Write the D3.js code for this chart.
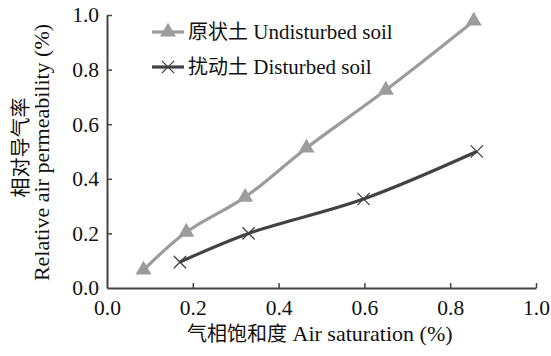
<!DOCTYPE html>
<html>
<head>
<meta charset="utf-8">
<script src="https://cdn.jsdelivr.net/npm/d3@7"></script>
<style>
body { margin: 0; background: #fff; }
text { font-family: "Liberation Serif", "Noto Sans CJK SC", serif; fill: #111; }
.cjk { font-family: "Noto Sans CJK SC", sans-serif; }
</style>
</head>
<body>
<div id="chart-area"></div>
<script>
// data
var undisturbedX = [0.085, 0.185, 0.322, 0.465, 0.65, 0.855];
var undisturbedY = [0.066, 0.205, 0.333, 0.513, 0.725, 0.978];
var disturbedX = [0.17, 0.33, 0.598, 0.862];
var disturbedY = [0.095, 0.2, 0.326, 0.50];
var xTicks = [0, 0.2, 0.4, 0.6, 0.8, 1.0];
var yTicks = [0, 0.2, 0.4, 0.6, 0.8, 1.0];
var seriesCn = ['原状土', '扰动土'];
var seriesEn = ['Undisturbed soil', 'Disturbed soil'];

var margin = { left: 107, right: 15, top: 15, bottom: 68 };
var width = 551 - margin.left - margin.right,
    height = 356 - margin.top - margin.bottom;

var svg = d3.select('#chart-area')
    .append('svg')
    .attr('width', 551)
    .attr('height', 356);

var g = svg.append('g')
    .attr('transform', 'translate(' + margin.left + ', ' + margin.top + ')');

var xScale = d3.scaleLinear().domain([0, 1]).range([0, width]);
var yScale = d3.scaleLinear().domain([0, 1]).range([height, 0]);

var axisColor = '#444';

var xAxis = g.append('g')
    .attr('transform', 'translate(0, ' + height + ')')
    .call(d3.axisBottom(xScale).tickValues(xTicks).tickFormat(d3.format('.1f'))
        .tickSizeInner(-5).tickSizeOuter(0).tickPadding(12));
var yAxis = g.append('g')
    .call(d3.axisLeft(yScale).tickValues(yTicks).tickFormat(d3.format('.1f'))
        .tickSizeInner(-5).tickSizeOuter(0).tickPadding(8));

[xAxis, yAxis].forEach(function(a) {
    a.select('.domain').attr('stroke', axisColor).attr('stroke-width', 2);
    a.selectAll('line').attr('stroke', axisColor).attr('stroke-width', 1.5);
    a.selectAll('text')
        .style('font-size', '21.5px')
        .style('font-family', '"Liberation Serif", serif')
        .style('fill', '#111');
});
xAxis.selectAll('.tick').filter(function(d) { return d === 0; }).select('line').remove();
yAxis.selectAll('.tick').filter(function(d) { return d === 0; }).select('line').remove();

// axis titles
var xTitle = g.append('text')
    .attr('x', 80)
    .attr('y', height + 53)
    .attr('text-anchor', 'start');
xTitle.append('tspan').attr('class', 'cjk').style('font-size', '20px').text('气相饱和度');
xTitle.append('tspan').style('font-size', '22px').text(' Air saturation (%)');

g.append('text')
    .attr('class', 'cjk')
    .attr('transform', 'rotate(-90)')
    .attr('x', -132.5)
    .attr('y', -79)
    .attr('text-anchor', 'middle')
    .style('font-size', '20px')
    .text('相对导气率');

g.append('text')
    .attr('transform', 'rotate(-90)')
    .attr('x', -137.5)
    .attr('y', -58)
    .attr('text-anchor', 'middle')
    .style('font-size', '22px')
    .text('Relative air permeability (%)');

var line = d3.line()
    .x(function(d) { return xScale(d[0]); })
    .y(function(d) { return yScale(d[1]); })
    .curve(d3.curveCatmullRom.alpha(0.5));

var undisturbed = d3.zip(undisturbedX, undisturbedY);
var disturbed = d3.zip(disturbedX, disturbedY);

var lightCol = '#9c9c9c', darkCol = '#424242';

g.append('path')
    .datum(undisturbed)
    .attr('d', line)
    .attr('fill', 'none')
    .attr('stroke', lightCol)
    .attr('stroke-width', 3.2);

g.append('path')
    .datum(disturbed)
    .attr('d', line)
    .attr('fill', 'none')
    .attr('stroke', darkCol)
    .attr('stroke-width', 3.2);

var tri = d3.symbol().type(d3.symbolTriangle).size(110);

g.selectAll('.tri')
    .data(undisturbed)
    .enter()
    .append('path')
    .attr('class', 'tri')
    .attr('d', tri)
    .attr('transform', function(d) { return 'translate(' + xScale(d[0]) + ',' + yScale(d[1]) + ')'; })
    .attr('fill', lightCol);

var cross = d3.symbol().type(d3.symbolX).size(100);

g.selectAll('.crs')
    .data(disturbed)
    .enter()
    .append('path')
    .attr('class', 'crs')
    .attr('d', cross)
    .attr('transform', function(d) { return 'translate(' + xScale(d[0]) + ',' + yScale(d[1]) + ')'; })
    .attr('fill', 'none')
    .attr('stroke', darkCol)
    .attr('stroke-width', 1.3);

// legend
var legend = svg.append('g').attr('transform', 'translate(152, 32)');
seriesEn.forEach(function(name, i) {
    var row = legend.append('g').attr('transform', 'translate(0,' + (i * 35) + ')');
    var col = i === 0 ? lightCol : darkCol;
    row.append('line')
        .attr('x1', 0).attr('x2', 32)
        .attr('stroke', col)
        .attr('stroke-width', 3.2);
    row.append('path')
        .attr('d', i === 0 ? tri : cross)
        .attr('transform', 'translate(16,0)')
        .attr('fill', i === 0 ? col : 'none')
        .attr('stroke', i === 0 ? 'none' : col)
        .attr('stroke-width', 1.3);
    var t = row.append('text')
        .attr('x', 36)
        .attr('y', 7);
    t.append('tspan').attr('class', 'cjk').style('font-size', '20px').text(seriesCn[i]);
    t.append('tspan').style('font-size', '21px').text(' ' + name);
});
</script>
</body>
</html>
